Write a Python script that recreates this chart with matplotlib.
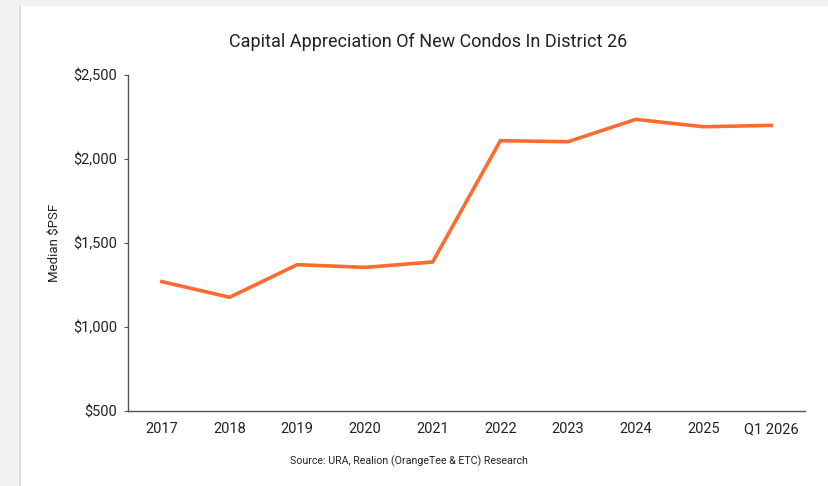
import matplotlib.pyplot as plt
from matplotlib.patches import Rectangle
from matplotlib.ticker import FuncFormatter

plt.rcParams['font.family'] = ['Roboto', 'DejaVu Sans']

years = ["2017", "2018", "2019", "2020", "2021", "2022", "2023", "2024", "2025", "Q1 2026"]
median_psf = [1270, 1177, 1371, 1355, 1387, 2109, 2103, 2236, 2192, 2200]

fig = plt.figure(figsize=(8.29, 4.86), dpi=100)
fig.patch.set_facecolor('#f2f2f2')

# white card with a soft edge on the left/top
fig.patches.append(Rectangle((21 / 829, 0), 1, 1 - 6 / 486, transform=fig.transFigure,
                             facecolor='white', edgecolor='none', zorder=-10))
fig.patches.append(Rectangle((19 / 829, 0), 2 / 829, 1 - 6 / 486, transform=fig.transFigure,
                             facecolor='#dcdcdc', edgecolor='none', zorder=-10))

ax = fig.add_axes([128 / 829, 75 / 486, 677 / 829, 336 / 486])
ax.set_zorder(5)
ax.set_facecolor('white')
x = range(len(years))
ax.plot(x, median_psf, color='#FF6B2F', linewidth=2.6, solid_joinstyle='miter')

ax.set_xlim(-0.5, len(years) - 0.5)
ax.set_ylim(500, 2500)
ax.set_yticks([500, 1000, 1500, 2000, 2500])
ax.yaxis.set_major_formatter(FuncFormatter(lambda v, p: f"${v:,.0f}"))
ax.set_xticks(list(x))
ax.set_xticklabels(years)

for s in ['top', 'right']:
    ax.spines[s].set_visible(False)
for s in ['left', 'bottom']:
    ax.spines[s].set_color('#555555')
    ax.spines[s].set_linewidth(1.0)

ax.tick_params(axis='y', length=3, width=0.8, color='#555555', labelsize=10.5,
               labelcolor='#222222', pad=5)
ax.tick_params(axis='x', length=0, labelsize=10.5, labelcolor='#222222', pad=8)

ax.set_ylabel("Median $PSF", fontsize=9.5, color='#222222', labelpad=9)

fig.text(428 / 829, 1 - 42 / 486, "Capital Appreciation Of New Condos In District 26",
         ha='center', va='center', fontsize=13, color='#222222')
fig.text(409 / 829, 1 - 461 / 486, "Source: URA, Realion (OrangeTee & ETC) Research",
         ha='center', va='center', fontsize=7.7, color='#222222')

fig.savefig("out.png", dpi=100, facecolor=fig.get_facecolor())
